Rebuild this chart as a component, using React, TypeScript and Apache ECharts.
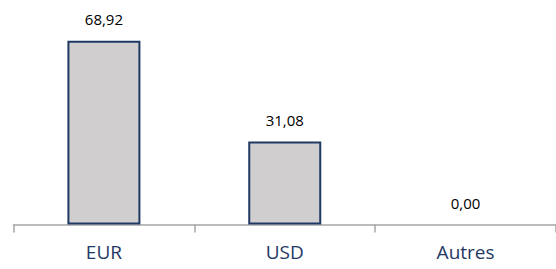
import React, { useEffect, useRef } from "react";
import * as echarts from "echarts";

const categories = ["EUR", "USD", "Autres"];
const values = [68.92, 31.08, 0.0];

export default function App() {
  const ref = useRef<HTMLDivElement>(null);
  useEffect(() => {
    document.body.style.margin = "0";
    const chart = echarts.init(ref.current!, null, { renderer: "svg" });
    chart.setOption({
      animation: false,
      grid: { left: 13.5, width: 546, top: 11.1, bottom: 44.5, containLabel: false },
      xAxis: {
        type: "category",
        data: categories,
        axisLine: { show: true, lineStyle: { color: "#A6A6A6", width: 1.5 } },
        axisTick: { show: true, length: 8, lineStyle: { color: "#A6A6A6", width: 1.5 } },
        axisLabel: {
          color: "#1F3864",
          fontFamily: "Open Sans",
          fontSize: 19,
          margin: 18,
        },
      },
      yAxis: {
        type: "value",
        min: 0,
        max: 80,
        show: false,
        splitLine: { show: false },
      },
      series: [
        {
          type: "bar",
          data: values.map((v) => (v === 0 ? { value: v, itemStyle: { borderWidth: 0 } } : v)),
          barWidth: 73,
          itemStyle: { color: "#D0CECE", borderColor: "#1F3864", borderWidth: 2 },
          label: {
            show: true,
            position: "top",
            distance: 14,
            color: "#000000",
            fontFamily: "Open Sans",
            fontSize: 15,
            formatter: (p: any) => Number(p.value).toFixed(2).replace(".", ","),
          },
        },
      ],
    });
    return () => chart.dispose();
  }, []);
  return (
    <div
      ref={ref}
      style={{ position: "absolute", left: 0, top: 0, width: 556, height: 269, background: "#fff", overflow: "hidden" }}
    />
  );
}
